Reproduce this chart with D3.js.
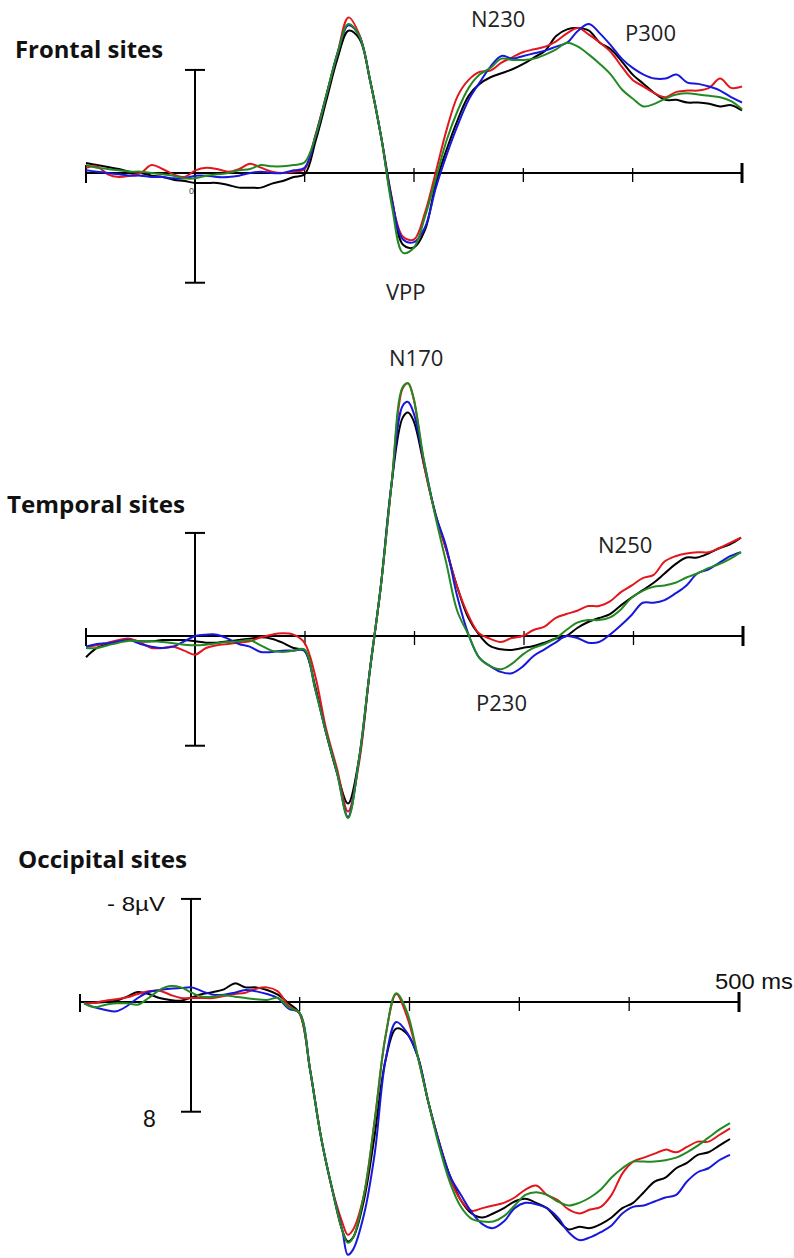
<!DOCTYPE html>
<html>
<head>
<meta charset="utf-8">
<script src="https://cdn.jsdelivr.net/npm/d3@7"></script>
<style>
  body { margin: 0; background: #fff; }
  svg { display: block; }
</style>
</head>
<body>
<svg id="chart" width="794" height="1258"></svg>
<script>
// time grid in ms, extra sample points at the sharp peaks
const timesFrontal = d3.range(-100, 501, 10)
const timesTemporal = [...d3.range(-100, 191, 10), 195, ...d3.range(200, 501, 10)]
const timesOccipital = [...d3.range(-100, 141, 10), 145, ...d3.range(150, 501, 10)]

const xTicks = [-100, 0, 100, 200, 300, 400, 500]
const scaleBar = [-7.75, 8.25]   // µV, negative up

// amplitudes in µV, one array per condition (drawn black, red, blue, green)
const frontalBlack = [-0.75,-0.6,-0.45,-0.3,-0.1,0,0.2,0.3,0.5,0.6,0.75,0.75,0.75,0.9,1.1,1.1,1.1,0.8,0.6,0.3,0.1,
  -2.4,-5.5,-8.6,-10.7,-10.1,-6.9,-2.7,2.0,5.4,5.6,4.3,0.75,
  -1.8,-4.0,-5.8,-6.7,-7.2,-7.5,-7.8,-8.2,-8.7,-9.2,-10.3,-10.8,-10.9,-10.7,-9.8,-9.3,-8.4,-7.4,-6.7,-6.0,-5.5,-5.5,-5.3,-5.3,-5.2,-5.0,-5.1,-4.7]
const frontalRed = [-0.4,-0.5,0.1,0.3,0.2,0.0,-0.6,-0.3,0.1,0.3,-0.2,-0.4,-0.3,-0.1,-0.3,-0.7,-0.4,-0.1,0.0,-0.1,-0.3,
  -2.9,-5.9,-9.0,-11.7,-10.4,-6.9,-2.7,2.2,4.8,5.0,3.0,-0.1,
  -3.3,-5.8,-7.0,-7.6,-7.7,-8.3,-8.7,-9.1,-9.3,-9.5,-9.9,-10.5,-10.9,-10.4,-9.8,-9.1,-8.0,-7.0,-6.5,-6.0,-5.7,-6.1,-6.2,-6.2,-6.4,-7.1,-6.4,-6.5]
const frontalBlue = [-0.2,-0.1,0.0,0.1,0.2,0.2,0.3,0.3,0.4,0.4,0.2,0.2,0.3,0.3,0.2,0.0,-0.1,0.0,0.0,-0.2,-0.4,
  -2.8,-5.9,-9.0,-11.1,-10.3,-6.9,-2.7,2.2,5.0,5.2,4.1,1.1,
  -1.4,-3.6,-5.5,-6.8,-8.0,-8.8,-8.6,-8.8,-9.0,-9.2,-9.5,-9.8,-10.7,-11.2,-10.5,-9.6,-8.6,-7.9,-7.4,-7.1,-7.1,-7.4,-6.8,-6.7,-6.5,-6.2,-5.7,-5.3]
const frontalGreen = [-0.6,-0.4,-0.3,-0.2,-0.1,-0.1,0.0,0.1,0.2,0.4,0.4,0.2,0.1,0.0,-0.2,-0.3,-0.6,-0.5,-0.5,-0.6,-0.8,
  -2.8,-5.9,-9.0,-11.2,-10.3,-6.9,-2.7,2.6,6.0,5.6,3.3,0.4,
  -2.5,-4.7,-6.4,-7.4,-7.9,-8.6,-8.5,-8.5,-8.6,-8.9,-9.3,-9.8,-9.5,-8.9,-8.2,-7.4,-6.3,-5.6,-5.0,-5.2,-5.6,-5.9,-6.0,-5.9,-5.8,-5.7,-5.4,-4.8]

const temporalBlack = [1.6,0.9,0.6,0.4,0.3,0.4,0.4,0.3,0.3,0.3,0.4,0.5,0.5,0.4,0.3,0.2,0.1,0.2,0.5,0.9,1.1,
  3.8,7.3,10.3,12.6,9.3,2.6,-3.7,-11.5,-16.4,-16.8,
  -16.2,-12.7,-9.2,-6.5,-3.7,-1.4,-0.1,0.75,1.0,1.05,0.9,0.75,0.5,0.2,0.0,-0.6,-1.05,-1.35,-1.65,-2.3,
  -2.9,-3.45,-4.0,-4.7,-5.4,-5.9,-5.9,-6.2,-6.6,-6.9,-7.4]
const temporalRed = [0.8,0.7,0.5,0.3,0.2,0.5,0.9,0.9,0.8,1.1,1.4,0.9,0.7,0.6,0.5,0.4,0.1,-0.1,-0.2,-0.1,0.5,
  3.0,7.0,10.0,13.2,9.6,2.6,-3.7,-11.5,-18.6,-19.0,
  -17.9,-12.7,-9.2,-6.5,-3.7,-1.6,-0.2,0.2,0.45,0.15,0.0,-0.45,-0.7,-1.35,-1.65,-1.9,-2.25,-2.25,-2.6,-3.3,
  -3.8,-4.35,-4.6,-5.6,-6.0,-6.2,-6.3,-6.3,-6.6,-7.0,-7.4]
const temporalBlue = [0.8,0.6,0.55,0.4,0.3,0.6,0.8,0.9,0.8,0.4,0.0,-0.1,-0.1,0.2,0.6,0.8,1.2,1.2,1.1,1.1,1.1,
  4.0,7.3,10.3,13.6,9.3,2.6,-3.7,-11.5,-17.3,-17.6,
  -16.8,-13.0,-9.2,-6.7,-3.0,-0.2,1.6,2.25,2.7,2.8,2.3,1.5,1.0,0.5,0.0,0.15,0.5,0.45,-0.1,-0.8,
  -1.6,-2.5,-2.5,-2.7,-3.2,-3.8,-4.7,-5.0,-5.5,-6.0,-6.3]
const temporalGreen = [0.9,0.9,0.7,0.5,0.35,0.4,0.4,0.45,0.55,0.65,0.7,0.65,0.55,0.45,0.4,0.3,0.7,1.1,1.2,1.1,1.0,
  4.0,7.3,10.3,13.7,9.3,2.6,-3.7,-11.5,-18.7,-19.0,
  -17.9,-13.0,-9.0,-5.5,-1.9,-0.15,1.6,2.25,2.5,2.1,1.4,0.9,0.6,0.2,-0.45,-1.0,-1.2,-1.2,-1.4,-2.0,
  -2.9,-3.4,-3.7,-3.8,-4.0,-4.4,-4.7,-5.1,-5.4,-5.8,-6.3]

const occipitalBlack = [0.1,0.05,0.0,-0.1,-0.4,-0.75,-0.6,-0.3,-0.15,-0.1,-0.35,-0.6,-0.75,-0.95,-1.4,-1.1,-1.1,-0.9,-0.55,0.1,0.8,
  5.1,10.1,13.9,17.2,18.0,
  17.7,14.9,10.0,4.4,2.0,2.4,4.1,7.6,10.6,13.1,14.9,15.9,16.2,15.9,15.5,15.0,14.8,15.1,15.5,16.4,
  17.1,16.9,17.0,16.7,16.2,15.5,15.1,14.3,13.5,13.2,12.5,12.1,11.5,11.3,10.8,10.3]
const occipitalRed = [0.1,0.05,-0.1,-0.2,-0.35,-0.6,-0.8,-0.85,-0.55,-0.3,-0.3,-0.3,-0.3,-0.45,-0.6,-0.7,-1.0,-1.1,-0.8,0.3,0.85,
  5.1,10.1,13.9,16.6,17.5,
  17.1,14.5,8.9,2.6,-0.6,1.1,4.1,7.6,10.6,13.3,14.9,15.7,15.5,15.3,15.1,14.7,14.1,13.8,14.5,14.9,
  15.6,15.9,15.6,15.4,14.5,12.9,12.0,11.7,11.4,11.1,11.3,10.9,10.5,10.5,10.0,9.5]
const occipitalBlue = [0.1,0.4,0.6,0.7,0.3,-0.3,-0.75,-0.9,-1.0,-1.05,-1.1,-0.8,-0.55,-0.55,-0.7,-0.9,-0.8,-0.6,-0.3,0.5,0.8,
  5.1,10.1,13.9,17.2,19.0,
  18.6,16.0,11.4,4.4,1.5,2.3,4.1,7.6,10.6,13.1,14.5,15.8,16.7,17.0,16.5,15.5,15.1,15.2,15.5,16.2,
  17.3,17.9,17.7,17.3,16.8,15.9,15.4,15.3,15.0,14.7,14.5,13.5,12.8,12.5,11.9,11.5]
const occipitalGreen = [0.1,0.4,0.2,0.1,0.1,0.2,-0.3,-0.9,-1.2,-1.1,-0.7,-0.4,-0.4,-0.5,-0.4,-0.3,-0.2,-0.15,-0.3,0.4,0.8,
  5.1,10.1,13.9,17.2,18.1,
  17.7,14.5,8.9,2.6,-0.65,0.75,4.1,7.6,10.9,13.6,15.4,16.3,16.5,16.5,16.1,15.3,14.5,14.3,14.5,15.0,
  15.3,15.1,14.7,14.1,13.2,12.5,12.0,12.0,12.0,11.9,11.7,11.3,10.8,10.2,9.6,9.1]

const colors = ["#000000", "#e3161d", "#1818dc", "#238a23"]

const panels = [
  {title: "Frontal sites", tx: 15, ty: 58, tw: 148, axisY: 173, axisX: [86, 742], dataX: [86, 742], zeroX: 195,
   times: timesFrontal, series: [frontalBlack, frontalRed, frontalBlue, frontalGreen],
   labels: [["N230", 471, 27], ["P300", 625, 41], ["VPP", 386, 300]]},
  {title: "Temporal sites", tx: 7, ty: 513, tw: 178, axisY: 636, axisX: [86, 743], dataX: [86, 741], zeroX: 195,
   times: timesTemporal, series: [temporalBlack, temporalRed, temporalBlue, temporalGreen],
   labels: [["N170", 389, 366], ["N250", 598, 553], ["P230", 476, 711]]},
  {title: "Occipital sites", tx: 18, ty: 868, tw: 169, axisY: 1002, axisX: [80, 739], dataX: [84, 730], zeroX: 191,
   times: timesOccipital, series: [occipitalBlack, occipitalRed, occipitalBlue, occipitalGreen],
   labels: []}
]

const svg = d3.select("#chart")
const pxPerUV = 13.3

panels.forEach((p, pi) => {
  const g = svg.append("g")
  const xAxis = d3.scaleLinear().domain([-100, 500]).range(p.axisX)
  const x = d3.scaleLinear().domain([-100, 500]).range(p.dataX)
  const y = d3.scaleLinear().domain([0, 8]).range([p.axisY, p.axisY + 8 * pxPerUV])

  g.append("text")
    .attr("x", p.tx).attr("y", p.ty)
    .attr("font-family", "Open Sans, sans-serif")
    .attr("font-weight", "bold")
    .attr("font-size", "23px")
    .attr("fill", "#111")
    .attr("textLength", p.tw).attr("lengthAdjust", "spacingAndGlyphs")
    .text(p.title)

  // time axis
  g.append("line")
    .attr("x1", xAxis(-100)).attr("x2", xAxis(500))
    .attr("y1", y(0)).attr("y2", y(0))
    .attr("stroke", "#000").attr("stroke-width", 2)

  xTicks.filter(t => t !== 0).forEach(t => {
    let up = 5, down = 9, w = 1.3
    if (t === -100) { up = 8; down = 10; w = 2 }
    if (t === 500) { up = 10; down = 10; w = 3 }
    g.append("line")
      .attr("x1", xAxis(t)).attr("x2", xAxis(t))
      .attr("y1", y(0) - up).attr("y2", y(0) + down)
      .attr("stroke", "#000").attr("stroke-width", w)
  })

  // amplitude scale bar at 0 ms
  g.append("line")
    .attr("x1", p.zeroX).attr("x2", p.zeroX)
    .attr("y1", y(scaleBar[0])).attr("y2", y(scaleBar[1]))
    .attr("stroke", "#000").attr("stroke-width", 2)
  scaleBar.forEach(v => {
    g.append("line")
      .attr("x1", p.zeroX - 10).attr("x2", p.zeroX + 10)
      .attr("y1", y(v)).attr("y2", y(v))
      .attr("stroke", "#000").attr("stroke-width", 2)
  })

  const line = d3.line()
    .x((d, i) => x(p.times[i]))
    .y(d => y(d))
    .curve(d3.curveCatmullRom.alpha(0.5))

  p.series.forEach((s, i) => {
    g.append("path")
      .datum(s)
      .attr("d", line)
      .attr("fill", "none")
      .attr("stroke", colors[i])
      .attr("stroke-width", 2)
      .attr("stroke-linejoin", "round")
  })

  p.labels.forEach(l => {
    g.append("text")
      .attr("x", l[1]).attr("y", l[2])
      .attr("font-family", "Open Sans, sans-serif")
      .attr("font-size", "22px")
      .attr("fill", "#222")
      .text(l[0])
  })

  if (pi === 0) {
    g.append("text")
      .attr("x", 189).attr("y", 194)
      .attr("font-family", "Liberation Sans, Arial, sans-serif")
      .attr("font-size", "9px").attr("fill", "#444")
      .text("0")
  }

  if (pi === 2) {
    g.append("text")
      .attr("x", 107).attr("y", 911)
      .attr("font-family", "Liberation Sans, Arial, sans-serif")
      .attr("font-size", "20px").attr("fill", "#111")
      .attr("textLength", 58).attr("lengthAdjust", "spacingAndGlyphs")
      .text("- 8µV")
    g.append("text")
      .attr("x", 143).attr("y", 1127)
      .attr("font-family", "Liberation Sans, Arial, sans-serif")
      .attr("font-size", "23px").attr("fill", "#111")
      .text("8")
    g.append("text")
      .attr("x", 715).attr("y", 989)
      .attr("font-family", "Liberation Sans, Arial, sans-serif")
      .attr("font-size", "22px").attr("fill", "#111")
      .attr("textLength", 78).attr("lengthAdjust", "spacingAndGlyphs")
      .text("500 ms")
  }
})
</script>
</body>
</html>
